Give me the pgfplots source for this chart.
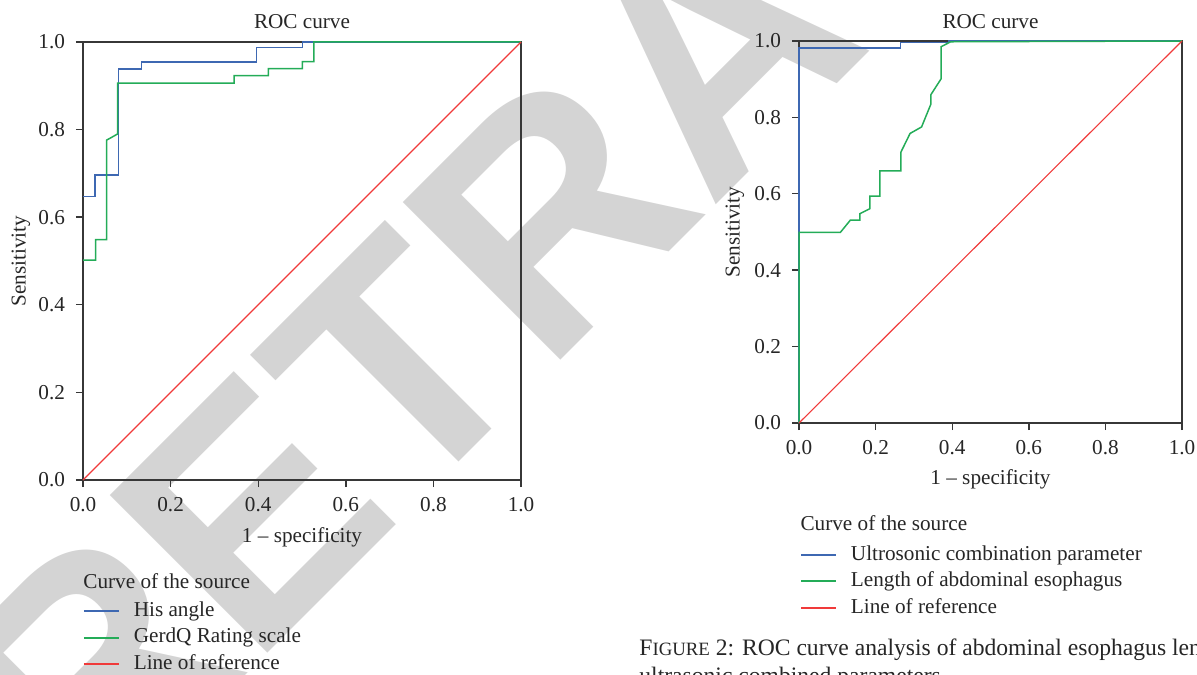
\documentclass[border=0pt]{standalone}
\usepackage{fontspec}
\setmainfont{Liberation Serif}
\newfontfamily\wmfont{Liberation Sans}
\usepackage{pgfplots}
\pgfplotsset{compat=1.18}
\definecolor{cblue}{RGB}{62,104,178}
\definecolor{cgreen}{RGB}{36,172,88}
\definecolor{cred}{RGB}{240,58,58}
\definecolor{axgray}{RGB}{55,55,55}
\definecolor{wm}{RGB}{212,212,212}
\newcommand\myfont{\fontsize{10.6}{12.7}\selectfont}
\pgfplotsset{
  rocaxis/.style={
    anchor=south west, scale only axis,
    xmin=0, xmax=1, ymin=0, ymax=1,
    xtick={0,0.2,0.4,0.6,0.8,1}, ytick={0,0.2,0.4,0.6,0.8,1},
    xticklabels={0.0,0.2,0.4,0.6,0.8,1.0},
    yticklabels={0.0,0.2,0.4,0.6,0.8,1.0},
    tick align=outside, xtick pos=bottom, ytick pos=left,
    major tick length=3.5pt,
    axis line style={draw=axgray, line width=0.7pt},
    every tick/.style={draw=axgray, line width=0.7pt},
    tick label style={font=\myfont, text=black!85},
    yticklabel style={xshift=-2pt},
    xticklabel style={yshift=-1.5pt},
    label style={font=\myfont, text=black!85},
    title style={font=\myfont, text=black!85},
    every axis title shift=0pt,
    clip=false,
    legend cell align=left,
    legend style={draw=none, fill=none, inner sep=0pt, outer sep=0pt,
      font=\myfont, text=black!85, row sep=3.65pt, column sep=7pt,
      nodes={inner sep=0pt, text height=7.4pt, text depth=2.2pt}},
  },
}
\begin{document}
\begin{tikzpicture}
\useasboundingbox (0pt,0pt) rectangle (598.5pt,337pt);
% watermark
\node[rotate=45, anchor=base west, inner sep=0pt, text=wm]
  at (43.5pt,-80pt) {\wmfont\bfseries\fontsize{162}{162}\selectfont RETRACTED};

% ---------------- left plot
\begin{axis}[rocaxis, at={(41.5pt,97pt)}, width=219pt, height=219pt,
  title={ROC curve},
  title style={at={(axis description cs:0.5,1.0468)}, anchor=center},
  xlabel={1 -- specificity},
  xlabel style={at={(axis description cs:0.5,-0.1313)}, anchor=center},
  ylabel={Sensitivity},
  ylabel style={at={(axis description cs:-0.142,0.5)}, anchor=center, rotate=0},
  legend style={at={(axis description cs:0,-0.3600)}, anchor=west},
]
\addplot[forget plot, draw=cblue, line width=0.75pt] coordinates {(0,0.647) (0.027,0.647) (0.027,0.696) (0.081,0.696) (0.081,0.938) (0.133,0.938) (0.133,0.954) (0.396,0.954) (0.396,0.987) (0.501,0.987) (0.501,1) (1,1)};
\addplot[forget plot, draw=cgreen, line width=0.75pt] coordinates {(0,0.502) (0.029,0.502) (0.029,0.549) (0.054,0.549) (0.054,0.776) (0.079,0.790) (0.079,0.906) (0.345,0.906) (0.345,0.923) (0.423,0.923) (0.423,0.939) (0.501,0.939) (0.501,0.955) (0.527,0.955) (0.527,1) (1,1)};
\addplot[forget plot, draw=cred, line width=0.55pt] coordinates {(0,0) (1,1)};
\addlegendimage{legend image code/.code={\draw[draw=cblue, line width=0.9pt] (0pt,0pt) -- (17.5pt,0pt);}}
\addlegendentry{His angle}
\addlegendimage{legend image code/.code={\draw[draw=cgreen, line width=0.9pt] (0pt,0pt) -- (17.5pt,0pt);}}
\addlegendentry{GerdQ Rating scale}
\addlegendimage{legend image code/.code={\draw[draw=cred, line width=0.9pt] (0pt,0pt) -- (17.5pt,0pt);}}
\addlegendentry{Line of reference}
\node[anchor=west, inner sep=0pt, font=\myfont, text=black!85] at (axis description cs:0,-0.2306) {Curve of the source};
\end{axis}

% ---------------- right plot
\begin{axis}[rocaxis, at={(399.5pt,125.5pt)}, width=191.5pt, height=191pt,
  title={ROC curve},
  title style={at={(axis description cs:0.5,1.051)}, anchor=center},
  xlabel={1 -- specificity},
  xlabel style={at={(axis description cs:0.5,-0.1466)}, anchor=center},
  ylabel={Sensitivity},
  ylabel style={at={(axis description cs:-0.1671,0.5)}, anchor=center, rotate=0},
  legend style={at={(axis description cs:0.003,-0.4144)}, anchor=west},
]
\addplot[forget plot, draw=cblue, line width=0.75pt] coordinates {(0,0) (0,0.982) (0.265,0.982) (0.265,0.996) (0.39,0.996) (0.39,1) (1,1)};
\addplot[forget plot, draw=cgreen, line width=0.75pt] coordinates {(0,0) (0,0.499) (0.108,0.499) (0.134,0.531) (0.159,0.531) (0.159,0.548) (0.185,0.561) (0.185,0.594) (0.211,0.594) (0.211,0.660) (0.266,0.660) (0.266,0.709) (0.290,0.758) (0.320,0.775) (0.344,0.834) (0.344,0.859) (0.371,0.901) (0.371,0.985) (0.396,0.998) (1,1)};
\addplot[forget plot, draw=cred, line width=0.55pt] coordinates {(0,0) (1,1)};
\addlegendimage{legend image code/.code={\draw[draw=cblue, line width=0.9pt] (0pt,0pt) -- (17.5pt,0pt);}}
\addlegendentry{Ultrosonic combination parameter}
\addlegendimage{legend image code/.code={\draw[draw=cgreen, line width=0.9pt] (0pt,0pt) -- (17.5pt,0pt);}}
\addlegendentry{Length of abdominal esophagus}
\addlegendimage{legend image code/.code={\draw[draw=cred, line width=0.9pt] (0pt,0pt) -- (17.5pt,0pt);}}
\addlegendentry{Line of reference}
\node[anchor=west, inner sep=0pt, font=\myfont, text=black!85] at (axis description cs:0.003,-0.2618) {Curve of the source};
\end{axis}

% caption
\node[anchor=base west, inner sep=0pt, align=left, text=black!85,
  font=\fontsize{11.8}{14}\selectfont] at (319.5pt,-4.75pt)
  {F{\fontsize{9.4}{14}\selectfont IGURE} 2: ROC curve analysis of abdominal esophagus length and\\ultrasonic combined parameters.};
\end{tikzpicture}
\end{document}
